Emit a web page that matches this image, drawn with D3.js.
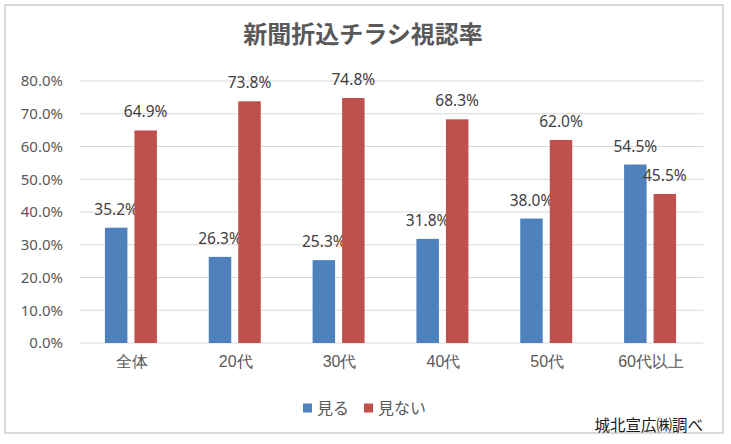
<!DOCTYPE html>
<html><head><meta charset="utf-8">
<script src="https://cdn.jsdelivr.net/npm/d3@7"></script>
<style>
body{margin:0;background:#fff;}
svg{display:block;font-family:"Noto Sans CJK JP","Noto Sans",sans-serif;}
</style></head>
<body><svg id="c" width="731" height="444"></svg>
<script>
const categories = ["全体","20代","30代","40代","50代","60代以上"];
const seriesNames = ["見る","見ない"];
const miru = [35.2, 26.3, 25.3, 31.8, 38.0, 54.5];
const minai = [64.9, 73.8, 74.8, 68.3, 62.0, 45.5];
const yTicks = [0,10,20,30,40,50,60,70,80];
const colors = ["#4f81bd","#c0504d"];
const title = "新聞折込チラシ視認率";
const note = "城北宣広㈱調べ";

const svg = d3.select("#c");
svg.append("rect").attr("x",5).attr("y",5).attr("width",718).attr("height",428)
  .attr("fill","#fff").attr("stroke","#d9d9d9").attr("stroke-width",2);

const L=80,R=703,T=81,B=343;
const x = d3.scaleBand().domain(categories).range([L,R]).paddingInner(0).paddingOuter(0);
const y = d3.scaleLinear().domain([0,80]).range([B,T]);

const g = svg.append("g");
g.selectAll("line.grid").data(yTicks).join("line")
  .attr("x1",L).attr("x2",R).attr("y1",d=>y(d)).attr("y2",d=>y(d))
  .attr("stroke","#d9d9d9").attr("stroke-width",1);

const yAxis = d3.axisLeft(y).tickValues(yTicks).tickFormat(d=>d.toFixed(1)+"%").tickSize(0).tickPadding(0);
const ya = svg.append("g").attr("transform","translate(63,0)").call(yAxis);
ya.select(".domain").remove();
ya.selectAll("text").attr("fill","#595959").style("font-size","15px").style("font-family","'Noto Sans','DejaVu Sans',sans-serif");

const xAxis = d3.axisBottom(x).tickSize(0).tickPadding(0);
const xa = svg.append("g").attr("transform","translate(0,356)").call(xAxis);
xa.select(".domain").remove();
xa.selectAll("text").attr("fill","#595959").style("font-size","16px");

const bw = 22.5, gap = 7;
const series = [miru, minai];
series.forEach((vals,si)=>{
  const off = si===0 ? -(gap/2+bw) : gap/2;
  svg.append("g").selectAll("rect").data(vals).join("rect")
    .attr("x",(d,i)=>x(categories[i])+x.bandwidth()/2+off - 1)
    .attr("width",bw)
    .attr("y",d=>y(d))
    .attr("height",d=>B-y(d))
    .attr("fill",colors[si]);
  svg.append("g").selectAll("text").data(vals).join("text")
    .attr("x",(d,i)=>x(categories[i])+x.bandwidth()/2+off - 1 + bw/2)
    .attr("y",d=>y(d)-13)
    .attr("text-anchor","middle")
    .attr("fill","#404040")
    .style("font-size","15.5px")
    .style("font-family","'Noto Sans','DejaVu Sans',sans-serif")
    .text(d=>d.toFixed(1)+"%");
});

svg.append("text").attr("x",363).attr("y",43).attr("text-anchor","middle")
  .attr("fill","#595959").style("font-size","24px").style("font-weight","bold").text(title);

const leg = svg.append("g").attr("transform","translate(303,408)");
const lx = [0, 61];
seriesNames.forEach((n,i)=>{
  leg.append("rect").attr("x",lx[i]).attr("y",-4.5).attr("width",9).attr("height",9).attr("fill",colors[i]);
  leg.append("text").attr("x",lx[i]+14).attr("y",0).attr("dy","0.35em")
    .attr("fill","#595959").style("font-size","16px").text(n);
});

svg.append("text").attr("x",703).attr("y",426).attr("dy","0.35em").attr("text-anchor","end")
  .attr("fill","#1a1a1a").style("font-size","15.5px").text(note);
</script></body></html>
